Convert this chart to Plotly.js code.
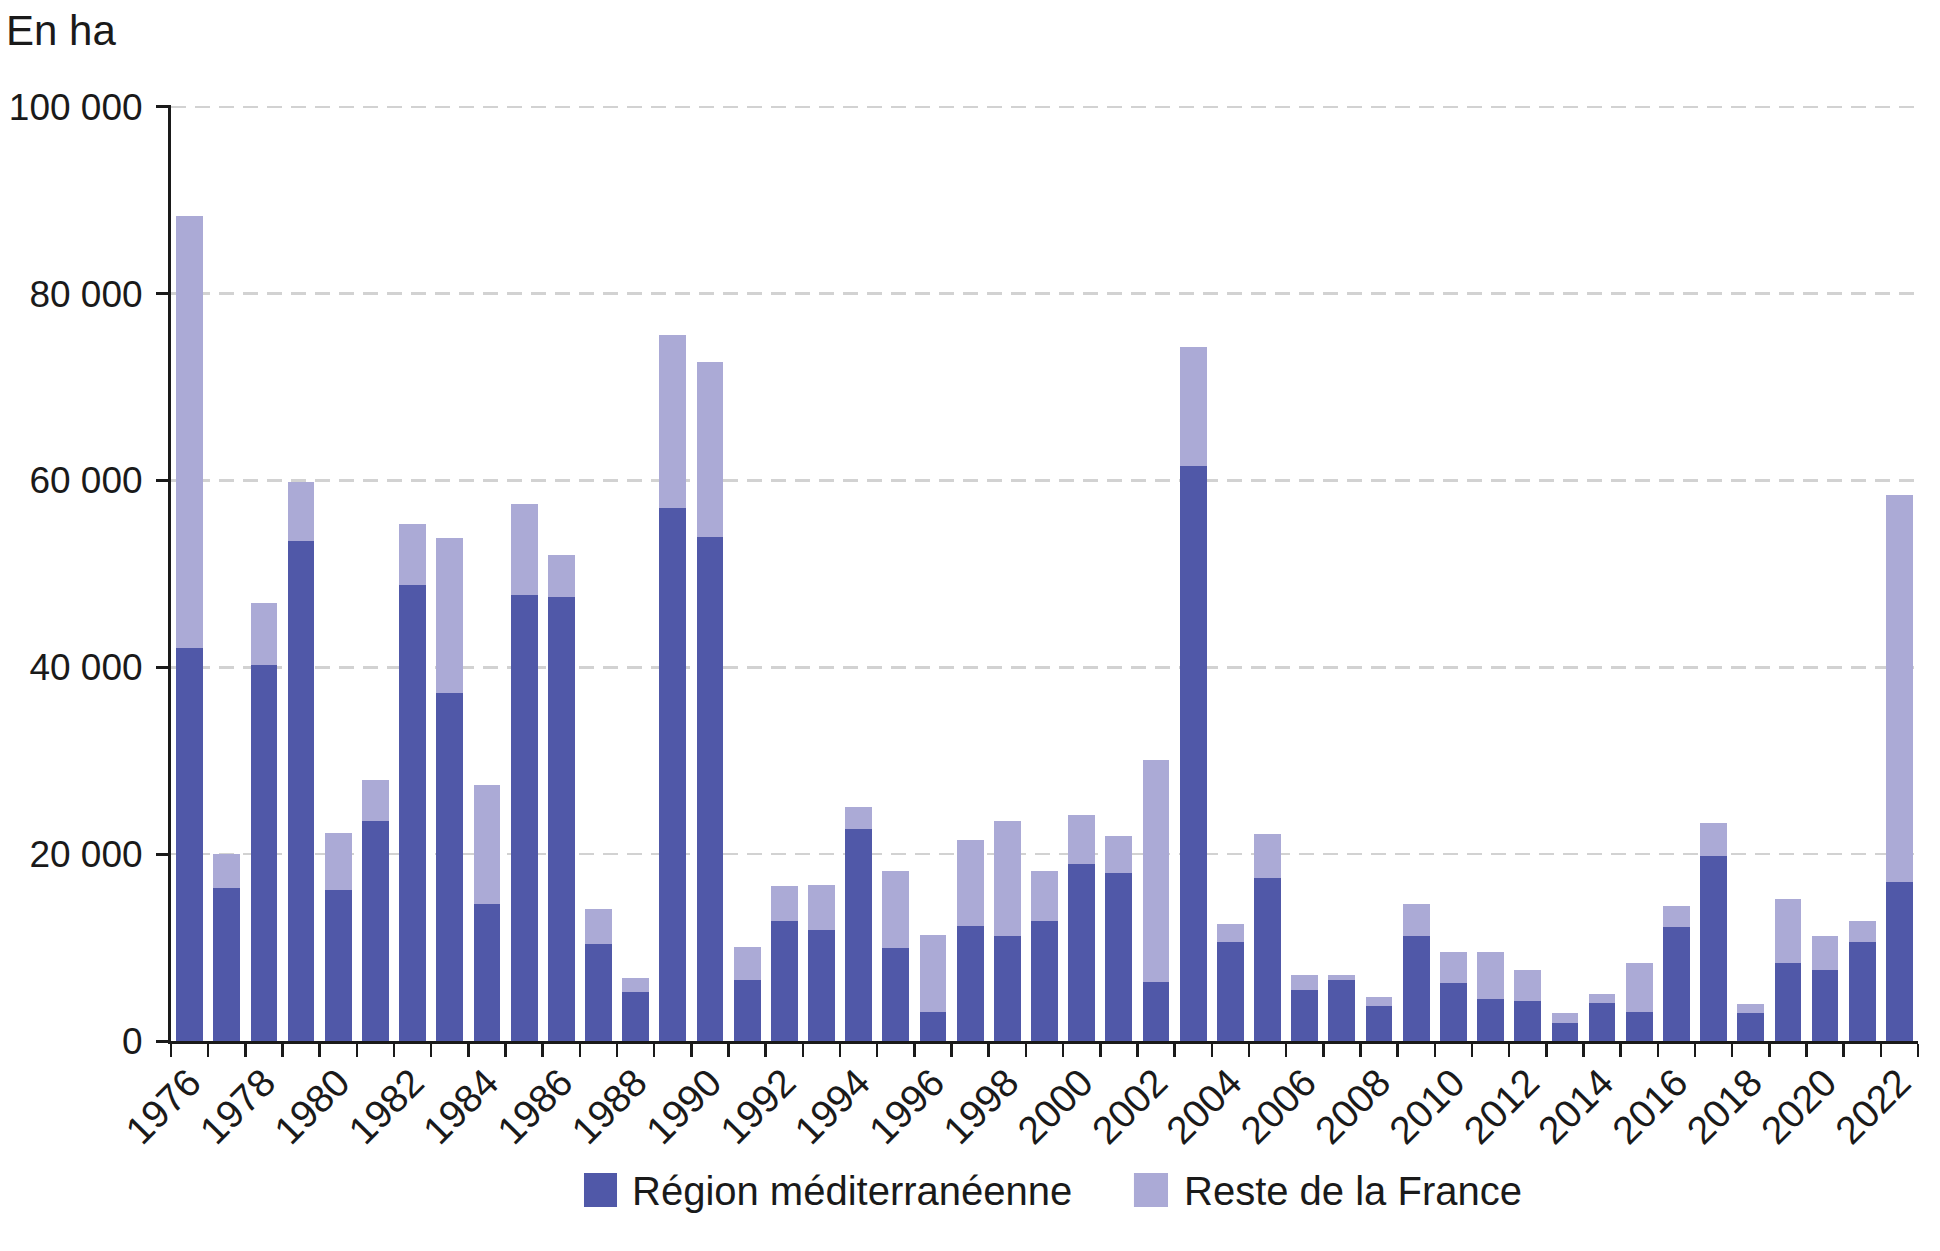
<!DOCTYPE html>
<html>
<head>
<meta charset="utf-8">
<script src="https://cdn.plot.ly/plotly-3.0.1.min.js"></script>
<style>
  html, body { margin: 0; padding: 0; background: #fff; }
  #chart { width: 1940px; height: 1251px; }
</style>
</head>
<body>
<div id="chart"></div>
<script>
// Surfaces brûlées par année (en ha)
const annees = [
  1976, 1977, 1978, 1979, 1980, 1981, 1982, 1983, 1984, 1985,
  1986, 1987, 1988, 1989, 1990, 1991, 1992, 1993, 1994, 1995,
  1996, 1997, 1998, 1999, 2000, 2001, 2002, 2003, 2004, 2005,
  2006, 2007, 2008, 2009, 2010, 2011, 2012, 2013, 2014, 2015,
  2016, 2017, 2018, 2019, 2020, 2021, 2022
];
const regionMed = [
  42100, 16400, 40200, 53500, 16200, 23600, 48800, 37300, 14700, 47700,
  47500, 10400, 5200, 57100, 54000, 6500, 12800, 11900, 22700, 10000,
  3100, 12300, 11200, 12800, 18900, 18000, 6300, 61600, 10600, 17400,
  5500, 6500, 3700, 11200, 6200, 4500, 4300, 1900, 4100, 3100,
  12200, 19800, 3050, 8400, 7600, 10600, 17000
];
const resteFrance = [
  46200, 3600, 6700, 6300, 6050, 4300, 6500, 16600, 12700, 9800,
  4500, 3700, 1500, 18500, 18700, 3600, 3800, 4800, 2400, 8200,
  8300, 9200, 12300, 5400, 5300, 3900, 23800, 12700, 1900, 4800,
  1600, 600, 1000, 3500, 3300, 5000, 3300, 1100, 900, 5200,
  2200, 3500, 950, 6800, 3600, 2300, 41400
];
const nomsSeries = ['Région méditerranéenne', 'Reste de la France'];
const couleurs = ['#5058a8', '#abaad6'];
const graduationsY = [0, 20000, 40000, 60000, 80000, 100000];

const cats = annees.map(String);
// une étiquette sur deux
const etiquettes = annees.map((a, i) => (i % 2 === 0 ? String(a) : ''));

const police = { family: 'Liberation Sans, Arial, sans-serif', color: '#1a1a1a' };

const traces = [
  { x: cats, y: regionMed, name: nomsSeries[0], type: 'bar', marker: { color: couleurs[0] } },
  { x: cats, y: resteFrance, name: nomsSeries[1], type: 'bar', marker: { color: couleurs[1] } }
];

// légende dessinée à la main pour avoir des carrés de la bonne taille
const legX = [[0.2364, 0.2553, 0.2627], [0.5512, 0.5707, 0.5787]];
const shapes = legX.map((p, i) => ({
  type: 'rect', xref: 'paper', yref: 'paper',
  x0: p[0], x1: p[1], y0: -0.1410, y1: -0.1774,
  fillcolor: couleurs[i], line: { width: 0 }
}));
const annotations = legX.map((p, i) => ({
  text: nomsSeries[i], xref: 'paper', yref: 'paper',
  x: p[2], y: -0.1600, xanchor: 'left', yanchor: 'middle',
  showarrow: false, font: { ...police, size: 40 }
}));
annotations.push({
  text: 'En ha', xref: 'paper', yref: 'paper',
  x: -0.0955, y: 1.0801, xanchor: 'left', yanchor: 'middle',
  showarrow: false, font: { ...police, size: 42 }
});

const layout = {
  width: 1940, height: 1251,
  margin: { l: 171, r: 22, t: 105, b: 210 },
  paper_bgcolor: '#ffffff', plot_bgcolor: '#ffffff',
  barmode: 'stack', bargap: 0.28,
  separators: ', ',
  showlegend: false,
  font: { ...police, size: 38 },
  xaxis: {
    type: 'category',
    tickvals: cats, ticktext: etiquettes,
    tickson: 'boundaries',
    tickangle: -45,
    ticks: 'outside', ticklen: 13, tickwidth: 2.5, tickcolor: '#1a1a1a',
    showline: true, linecolor: '#1a1a1a', linewidth: 3,
    showgrid: false, zeroline: false,
    tickfont: { ...police, size: 39 },
    fixedrange: true
  },
  yaxis: {
    range: [0, 100200],
    tickvals: graduationsY, tickformat: ',d',
    ticks: 'outside', ticklen: 12, tickwidth: 3, tickcolor: '#1a1a1a',
    ticklabelstandoff: 6,
    showline: true, linecolor: '#1a1a1a', linewidth: 3,
    showgrid: true, gridcolor: '#d2d2d2', gridwidth: 2.4, griddash: '15px,9px',
    zeroline: false,
    tickfont: { ...police, size: 37 },
    fixedrange: true
  },
  shapes: shapes,
  annotations: annotations
};

Plotly.newPlot('chart', traces, layout, { staticPlot: true, displayModeBar: false });
</script>
</body>
</html>
